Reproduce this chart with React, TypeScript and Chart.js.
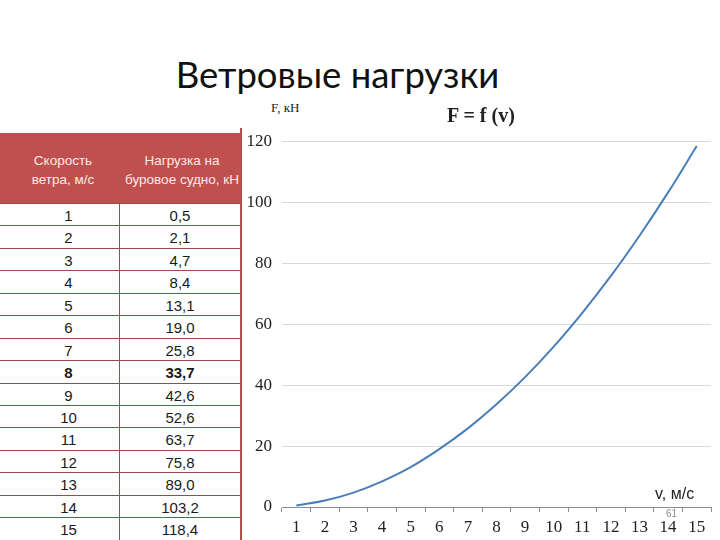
import React, { useEffect, useRef } from "react";
import { Chart, registerables } from "chart.js";

Chart.register(...registerables);

const speeds = ["1", "2", "3", "4", "5", "6", "7", "8", "9", "10", "11", "12", "13", "14", "15"];
const loads = [0.5, 2.1, 4.7, 8.4, 13.1, 19.0, 25.8, 33.7, 42.6, 52.6, 63.7, 75.8, 89.0, 103.2, 118.4];
const loadLabels = ["0,5", "2,1", "4,7", "8,4", "13,1", "19,0", "25,8", "33,7", "42,6", "52,6", "63,7", "75,8", "89,0", "103,2", "118,4"];
const boldRow = "8";
const yMin = 0;
const yMax = 120;
const yStep = 20;

const title = "Ветровые нагрузки";
const colHeader1 = ["Скорость", "ветра, м/с"];
const colHeader2 = ["Нагрузка на", "буровое судно, кН"];
const yAxisName = "F, кН";
const chartTitle = "F = f (v)";
const xAxisName = "v, м/с";
const pageNumber = "61";

function ChartView() {
  const ref = useRef<HTMLCanvasElement | null>(null);
  useEffect(() => {
    if (!ref.current) return;
    const chart = new Chart(ref.current, {
      type: "line",
      data: {
        labels: speeds,
        datasets: [
          {
            data: loads,
            borderColor: "#4a7ebb",
            borderWidth: 2,
            tension: 0.4,
            pointRadius: 0,
            fill: false,
          },
        ],
      },
      options: {
        animation: false,
        responsive: false,
        maintainAspectRatio: false,
        layout: { padding: { top: 5, right: 9, left: 0, bottom: 0 } },
        plugins: { legend: { display: false }, tooltip: { enabled: false }, title: { display: false } },
        scales: {
          x: {
            offset: true,
            grid: {
              offset: true,
              drawOnChartArea: false,
              drawTicks: true,
              tickLength: 5,
              color: "#8c8c8c",
            },
            border: { display: true, color: "#8c8c8c" },
            ticks: {
              color: "#222",
              font: { family: "'Liberation Serif', 'DejaVu Serif', serif", size: 17 },
              padding: 5,
              maxRotation: 0,
              autoSkip: false,
            },
            afterFit: (s: any) => {
              s.height = 33;
            },
          },
          y: {
            min: yMin,
            max: yMax,
            ticks: {
              stepSize: yStep,
              color: "#222",
              font: { family: "'Liberation Serif', 'DejaVu Serif', serif", size: 17 },
              padding: 10,
            },
            grid: { color: "#d9d9d9", drawTicks: false, lineWidth: 1 },
            border: { display: false },
            afterFit: (s: any) => {
              s.width = 41;
            },
          },
        },
      },
    });
    return () => chart.destroy();
  }, []);
  return (
    <canvas
      ref={ref}
      width={479}
      height={419}
      style={{ position: "absolute", left: 241, top: 121, width: 479, height: 419 }}
    />
  );
}

export default function App() {
  useEffect(() => {
    document.body.style.margin = "0";
  }, []);
  const rowH = 22.45;
  return (
    <div
      style={{
        position: "absolute",
        left: 0,
        top: 0,
        width: 720,
        height: 540,
        background: "#ffffff",
        overflow: "hidden",
        fontFamily: "'Liberation Sans', Arial, sans-serif",
      }}
    >
      <div
        style={{
          position: "absolute",
          left: 0,
          width: 675,
          top: 52,
          textAlign: "center",
          fontFamily: "Lato, 'Open Sans', sans-serif",
          fontSize: 36.5,
          color: "#111",
          lineHeight: "44px",
        }}
      >
        {title}
      </div>

      {/* table */}
      <div style={{ position: "absolute", left: 0, top: 133, width: 240 }}>
        <div
          style={{
            height: 70,
            background: "#c0504d",
            display: "flex",
            color: "#fbeaea",
            fontSize: 13.5,
            lineHeight: "19px",
          }}
        >
          <div style={{ width: 120, paddingLeft: 6, boxSizing: "border-box", textAlign: "center", paddingTop: 18 }}>
            <div>{colHeader1[0]}</div>
            <div>{colHeader1[1]}</div>
          </div>
          <div style={{ width: 120, textAlign: "center", paddingTop: 18, paddingLeft: 4, boxSizing: "border-box" }}>
            <div>{colHeader2[0]}</div>
            <div>{colHeader2[1]}</div>
          </div>
        </div>
        {speeds.map((s, i) => (
          <div
            key={s}
            style={{
              height: rowH,
              boxSizing: "border-box",
              borderTop: "1px solid #9a4a48",
              display: "flex",
              fontSize: 15,
              color: "#1a1a1a",
              fontWeight: s === boldRow ? "bold" : "normal",
              background: "#ffffff",
              lineHeight: `${rowH + 1}px`,
            }}
          >
            <div
              style={{
                width: 120,
                boxSizing: "border-box",
                textAlign: "center",
                paddingLeft: 18,
                borderRight: "1px solid #9a4a48",
              }}
            >
              {s}
            </div>
            <div style={{ width: 120, textAlign: "center" }}>{loadLabels[i]}</div>
          </div>
        ))}
      </div>
      <div style={{ position: "absolute", left: 240, top: 128, width: 1.5, height: 412, background: "#b0504d" }} />

      <ChartView />

      <div
        style={{
          position: "absolute",
          left: 271,
          top: 100,
          fontFamily: "'Liberation Serif', serif",
          fontSize: 13,
          color: "#222",
        }}
      >
        {yAxisName}
      </div>
      <div
        style={{
          position: "absolute",
          left: 447,
          top: 104,
          fontFamily: "'Liberation Serif', serif",
          fontSize: 20,
          fontWeight: "bold",
          color: "#222",
        }}
      >
        {chartTitle}
      </div>
      <div
        style={{
          position: "absolute",
          left: 655,
          top: 485,
          fontSize: 16,
          color: "#222",
        }}
      >
        {xAxisName}
      </div>
      <div
        style={{
          position: "absolute",
          left: 666,
          top: 508,
          fontSize: 10,
          color: "#8c8c8c",
        }}
      >
        {pageNumber}
      </div>
    </div>
  );
}
